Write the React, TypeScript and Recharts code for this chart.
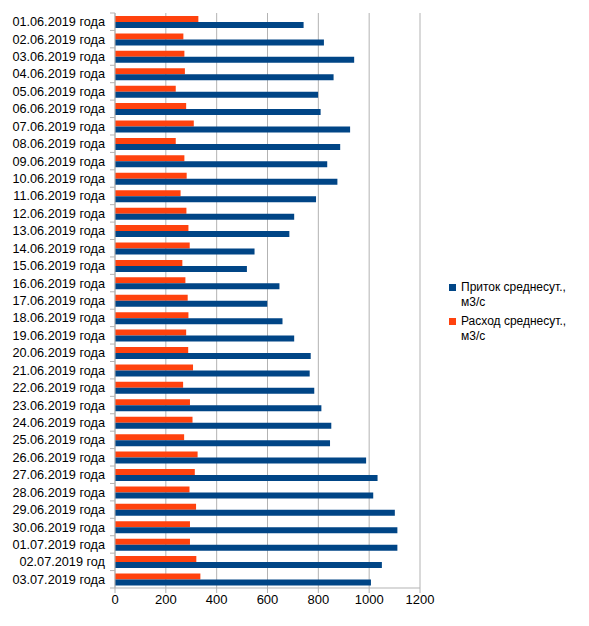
import { BarChart, Bar, XAxis, YAxis, CartesianGrid } from "recharts"

const dates = [
  "01.06.2019 года", "02.06.2019 года", "03.06.2019 года", "04.06.2019 года", "05.06.2019 года",
  "06.06.2019 года", "07.06.2019 года", "08.06.2019 года", "09.06.2019 года", "10.06.2019 года",
  "11.06.2019 года", "12.06.2019 года", "13.06.2019 года", "14.06.2019 года", "15.06.2019 года",
  "16.06.2019 года", "17.06.2019 года", "18.06.2019 года", "19.06.2019 года", "20.06.2019 года",
  "21.06.2019 года", "22.06.2019 года", "23.06.2019 года", "24.06.2019 года", "25.06.2019 года",
  "26.06.2019 года", "27.06.2019 года", "28.06.2019 года", "29.06.2019 года", "30.06.2019 года",
  "01.07.2019 года", "02.07.2019 год", "03.07.2019 года",
]

const inflow = [
  742, 822, 941, 860, 799, 809, 925, 886, 835, 875, 791, 705, 686, 549, 519, 647, 599,
  659, 705, 770, 766, 784, 812, 851, 846, 988, 1033, 1016, 1101, 1111, 1111, 1050, 1007,
]

const outflow = [
  328, 269, 273, 275, 239, 280, 310, 239, 273, 282, 258, 281, 289, 294, 265, 277, 286,
  289, 280, 288, 307, 268, 295, 305, 272, 325, 314, 293, 319, 295, 295, 320, 336,
]

const xTicks = [0, 200, 400, 600, 800, 1000, 1200]

const legendItems = [
  { color: "#004586", lines: ["Приток среднесут.,", "м3/с"] },
  { color: "#ff420e", lines: ["Расход среднесут.,", "м3/с"] },
]

const BLUE = "#004586"
const ORANGE = "#ff420e"
const GRID = "#b3b3b3"
const FONT = "'Liberation Sans', Arial, sans-serif"

const chartData = dates.map((d, i) => ({ name: d, inflow: inflow[i], outflow: outflow[i] }))

const PLOT_TOP = 13
const PLOT_H = 575
const band = PLOT_H / dates.length

// category ticks sit on the band borders, like in the office chart
function DateTick(props: any) {
  const { x, y, payload, index } = props
  const top = y - band / 2
  return (
    <g>
      <line x1={x + 3} x2={x + 8} y1={top} y2={top} stroke={GRID} />
      {index === dates.length - 1 && (
        <line x1={x + 3} x2={x + 8} y1={top + band} y2={top + band} stroke={GRID} />
      )}
      <text x={x - 2} y={y} dy={4.5} textAnchor="end" fontSize={12.7} fill="#000" fontFamily={FONT}>
        {payload.value}
      </text>
    </g>
  )
}

function LegendBox() {
  return (
    <div
      style={{
        position: "absolute",
        left: 449,
        top: 280,
        fontFamily: FONT,
        fontSize: 12,
        color: "#000",
        lineHeight: "15px",
      }}
    >
      {legendItems.map((it, i) => (
        <div key={i} style={{ display: "flex", alignItems: "flex-start", marginBottom: 4 }}>
          <div style={{ width: 7, height: 7, background: it.color, marginTop: 4, marginRight: 5 }} />
          <div>
            {it.lines.map((l, j) => (
              <div key={j}>{l}</div>
            ))}
          </div>
        </div>
      ))}
    </div>
  )
}

export default function App() {
  return (
    <div style={{ margin: -8, width: 589, height: 626, background: "#fff", position: "relative" }}>
      <BarChart
        width={589}
        height={626}
        data={chartData}
        layout="vertical"
        margin={{ top: PLOT_TOP, right: 169, left: 0, bottom: 0 }}
        barCategoryGap="17%"
        barGap={0}
      >
        <CartesianGrid horizontal={false} stroke={GRID} />
        <XAxis
          type="number"
          domain={[0, 1200]}
          ticks={xTicks}
          height={38}
          axisLine={{ stroke: GRID }}
          tickLine={{ stroke: GRID }}
          tickSize={5}
          tick={{ fontSize: 13, fill: "#000", fontFamily: FONT }}
          interval={0}
        />
        <XAxis
          xAxisId="top"
          type="number"
          domain={[0, 1200]}
          orientation="top"
          height={0}
          tick={false}
          tickLine={false}
          axisLine={{ stroke: GRID }}
        />
        <YAxis
          type="category"
          dataKey="name"
          width={115}
          interval={0}
          axisLine={{ stroke: GRID }}
          tickLine={false}
          tick={<DateTick />}
        />
        <Bar dataKey="outflow" name="Расход среднесут., м3/с" fill={ORANGE} isAnimationActive={false} />
        <Bar dataKey="inflow" name="Приток среднесут., м3/с" fill={BLUE} isAnimationActive={false} />
      </BarChart>
      <LegendBox />
    </div>
  )
}
